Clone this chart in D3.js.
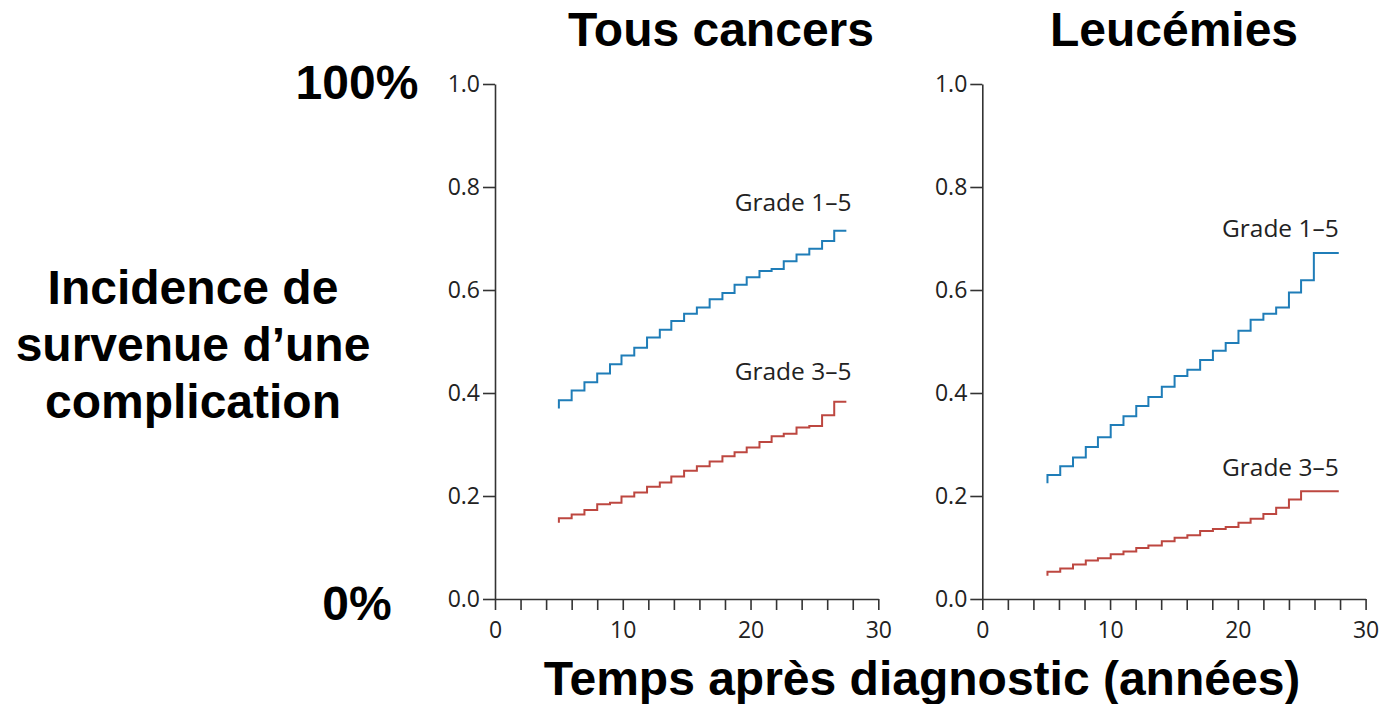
<!DOCTYPE html>
<html lang="fr">
<head>
    <meta charset="UTF-8">
    <title>Incidence de survenue d'une complication</title>
    <script src="https://d3js.org/d3.v7.min.js"></script>
    <style>
        body {
            margin: 0;
            background-color: #ffffff;
        }
        .big {
            font-family: 'Liberation Sans', Arial, sans-serif;
            font-weight: bold;
            font-size: 48px;
            fill: #000;
        }
        .axis path, .axis line {
            stroke: #333;
            stroke-width: 1.6px;
        }
        .axis text {
            font-family: 'Open Sans', sans-serif;
            font-size: 23px;
            fill: #222;
        }
        .step {
            fill: none;
            stroke-width: 2px;
        }
        .grade-label {
            font-family: 'Open Sans', sans-serif;
            font-size: 24.5px;
            fill: #222;
        }
    </style>
</head>
<body>
    <svg id="chart" width="1381" height="704"></svg>
    <script>
        // Tous cancers : instants des sauts (années) et niveaux
        const allTimes = [5.0, 6.0, 7.0, 8.0, 9.0, 9.9, 10.9, 11.9, 12.9, 13.8, 14.8, 15.8,
                          16.8, 17.8, 18.75, 19.7, 20.7, 21.65, 22.6, 23.6, 24.6, 25.6, 26.55];
        const allEnd = 27.5;
        const allGrade15Start = 0.37;
        const allGrade15 = [0.386, 0.405, 0.421, 0.438, 0.456, 0.473, 0.488, 0.508, 0.523, 0.540, 0.554, 0.566,
                            0.582, 0.594, 0.610, 0.625, 0.637, 0.641, 0.656, 0.669, 0.680, 0.695, 0.715];
        const allGrade35Start = 0.148;
        const allGrade35 = [0.157, 0.164, 0.173, 0.184, 0.187, 0.199, 0.207, 0.218, 0.226, 0.238, 0.249, 0.258,
                            0.267, 0.277, 0.285, 0.294, 0.305, 0.316, 0.321, 0.333, 0.336, 0.357, 0.383];

        // Leucémies
        const leuTimes = [5.1, 6.1, 7.1, 8.1, 9.05, 10.05, 11.05, 12.05, 13.0, 14.05, 15.05,
                          16.05, 17.05, 18.05, 19.05, 20.05, 21.0, 22.0, 23.0, 24.0, 24.95, 25.95];
        const leuEnd = 27.9;
        const leuGrade15Start = 0.225;
        const leuGrade15 = [0.241, 0.258, 0.275, 0.295, 0.314, 0.338, 0.355, 0.375, 0.392, 0.412, 0.433,
                            0.445, 0.464, 0.482, 0.497, 0.521, 0.542, 0.554, 0.566, 0.595, 0.619, 0.672];
        const leuGrade35Start = 0.045;
        const leuGrade35 = [0.053, 0.059, 0.067, 0.075, 0.079, 0.087, 0.092, 0.099, 0.104, 0.112, 0.119,
                            0.124, 0.132, 0.136, 0.140, 0.148, 0.156, 0.165, 0.177, 0.193, 0.209];

        const yTicks = [0, 0.2, 0.4, 0.6, 0.8, 1.0];
        const xTicks = d3.range(0, 31, 2);
        const gradeNames = ["Grade 1\u20135", "Grade 3\u20135"];

        const blue = "#1f7db8";
        const red = "#bd4740";

        const svg = d3.select("#chart");

        function stepPoints(times, start, values, end) {
            const pts = [{ t: times[0], v: start }];
            values.forEach((v, i) => pts.push({ t: times[i], v: v }));
            pts.push({ t: end, v: values[values.length - 1] });
            return pts;
        }

        function drawPanel(left, title, titleX, series, labelPos) {
            const x = d3.scaleLinear().domain([0, 30]).range([left, left + 383.3]);
            const y = d3.scaleLinear().domain([0, 1]).range([599, 84]);

            svg.append("g")
                .attr("class", "axis")
                .attr("transform", `translate(${left},0)`)
                .call(d3.axisLeft(y)
                    .tickValues(yTicks)
                    .tickFormat(d3.format(".1f"))
                    .tickSize(12)
                    .tickSizeOuter(0)
                    .tickPadding(3));

            svg.append("g")
                .attr("class", "axis")
                .attr("transform", "translate(0,599)")
                .call(d3.axisBottom(x)
                    .tickValues(xTicks)
                    .tickFormat(d => d % 10 === 0 ? d : "")
                    .tickSize(11)
                    .tickSizeOuter(0)
                    .tickPadding(12));

            const line = d3.line()
                .x(d => x(d.t))
                .y(d => y(d.v))
                .curve(d3.curveStepAfter);

            series.forEach((s, i) => {
                svg.append("path")
                    .datum(s.points)
                    .attr("class", "step")
                    .attr("stroke", s.color)
                    .attr("d", line);

                svg.append("text")
                    .attr("class", "grade-label")
                    .attr("x", x(labelPos[i][0]))
                    .attr("y", y(labelPos[i][1]))
                    .attr("text-anchor", "end")
                    .text(gradeNames[i]);
            });

            svg.append("text")
                .attr("class", "big")
                .attr("x", titleX)
                .attr("y", 46)
                .attr("text-anchor", "middle")
                .text(title);
        }

        drawPanel(495, "Tous cancers", 721, [
            { color: blue, points: stepPoints(allTimes, allGrade15Start, allGrade15, allEnd) },
            { color: red, points: stepPoints(allTimes, allGrade35Start, allGrade35, allEnd) }
        ], [[27.9, 0.754], [27.9, 0.425]]);

        drawPanel(982.3, "Leucémies", 1174, [
            { color: blue, points: stepPoints(leuTimes, leuGrade15Start, leuGrade15, leuEnd) },
            { color: red, points: stepPoints(leuTimes.slice(0, leuGrade35.length), leuGrade35Start, leuGrade35, leuEnd) }
        ], [[27.9, 0.702], [27.9, 0.239]]);

        // Libellés généraux
        svg.append("text").attr("class", "big")
            .attr("x", 357).attr("y", 99).attr("text-anchor", "middle").text("100%");
        svg.append("text").attr("class", "big")
            .attr("x", 357).attr("y", 620).attr("text-anchor", "middle").text("0%");

        const yLabel = svg.append("text").attr("class", "big").attr("text-anchor", "middle");
        ["Incidence de", "survenue d\u2019une", "complication"].forEach((t, i) => {
            yLabel.append("tspan").attr("x", 193).attr("y", 304 + i * 57).text(t);
        });

        svg.append("text").attr("class", "big")
            .attr("x", 922).attr("y", 695).attr("text-anchor", "middle")
            .text("Temps après diagnostic (années)");
    </script>
</body>
</html>
